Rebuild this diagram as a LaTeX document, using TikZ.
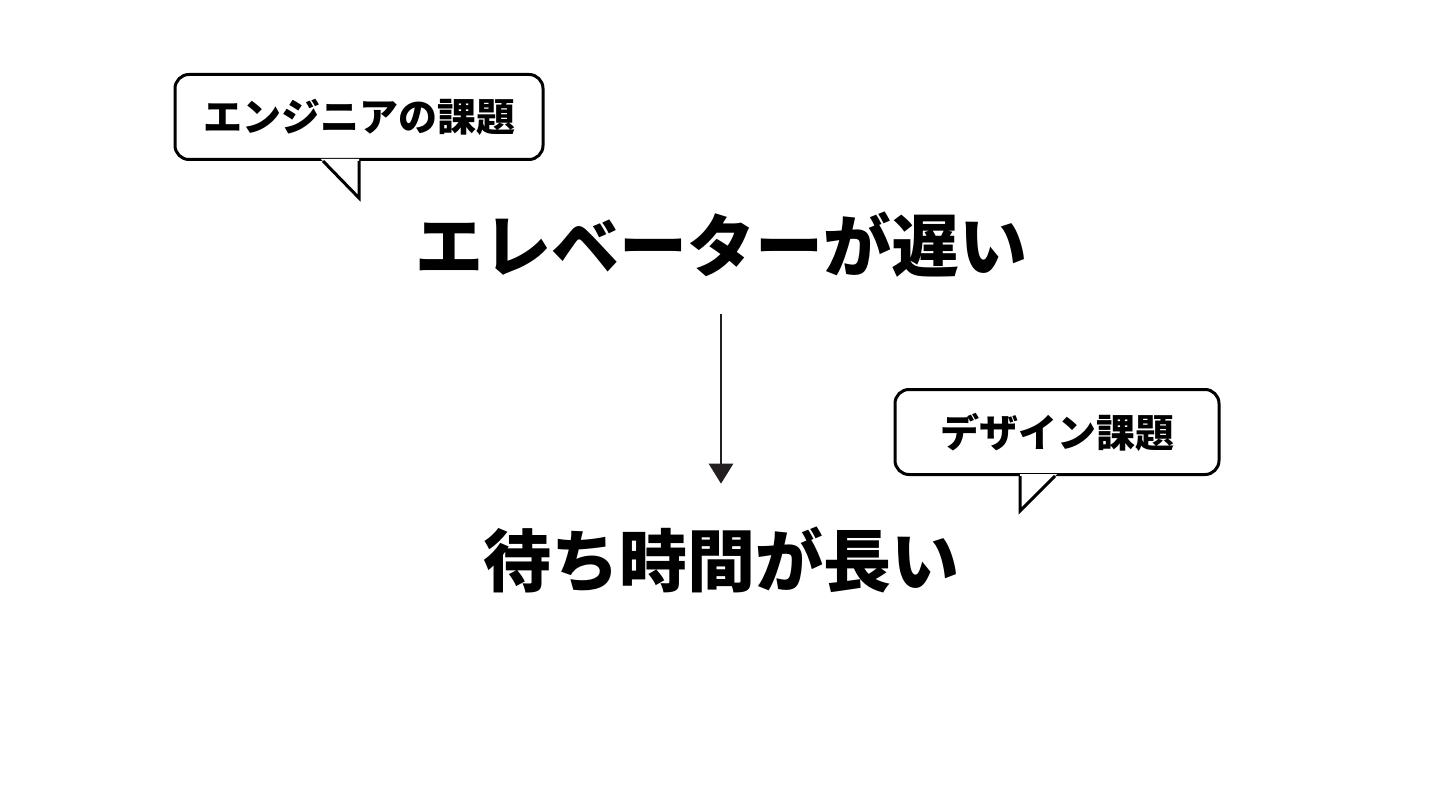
\documentclass[tikz,border=0pt]{standalone}
\usepackage{fontspec}
\usepackage{tikz}
\usetikzlibrary{arrows.meta,positioning,calc}
\newfontfamily\cjk{Noto Sans CJK JP}
\definecolor{inkline}{RGB}{35,31,32}
\tikzset{
  bubble/.style={rectangle,draw,fill=white,rounded corners=14pt,line width=3pt,minimum height=85pt,inner sep=0pt,font=\cjk\bfseries\fontsize{39}{39}\selectfont},
  lead/.style={inner sep=0pt,font=\cjk\bfseries\fontsize{68}{68}\selectfont},
  tail/.style={draw,line width=3pt,line join=miter}
}
\begin{document}
\begin{tikzpicture}[x=1pt,y=-1pt,>={Triangle[width=24pt,length=20pt]}]
  \useasboundingbox (0,0) rectangle (1440,810);

  % --- Main statements ---
  \node[lead] (slow) at (721,245) {エレベーターが遅い};
  \node[lead] (wait) at (721,560) {待ち時間が長い};

  % --- Speech bubbles ---
  \node[bubble,minimum width=368pt] (eng) at (359,117) {エンジニアの課題};
  \node[bubble,minimum width=324pt] (des) at (1057,432) {デザイン課題};

  % --- Bubble tails ---
  \coordinate (engA) at ($(eng.south)+(-36,0)$);
  \coordinate (engB) at ($(eng.south)+(0,0)$);
  \coordinate (engT) at ($(eng.south)+(0,37)$);
  \fill[white] ($(engA)+(-2,-2)$) -- (engT) -- ($(engB)+(0,-2)$) -- cycle;
  \draw[tail] (engA) -- (engT) -- (engB);

  \coordinate (desA) at ($(des.south)+(-37,0)$);
  \coordinate (desB) at ($(des.south)+(-2,0)$);
  \coordinate (desT) at ($(des.south)+(-37,35)$);
  \fill[white] ($(desA)+(0,-2)$) -- (desT) -- ($(desB)+(2,-2)$) -- cycle;
  \draw[tail] (desA) -- (desT) -- (desB);

  % --- Arrow between statements ---
  \draw[->,inkline,line width=2.5pt,shorten <=36pt,shorten >=43pt] (slow.south) -- (wait.north);
\end{tikzpicture}
\end{document}
